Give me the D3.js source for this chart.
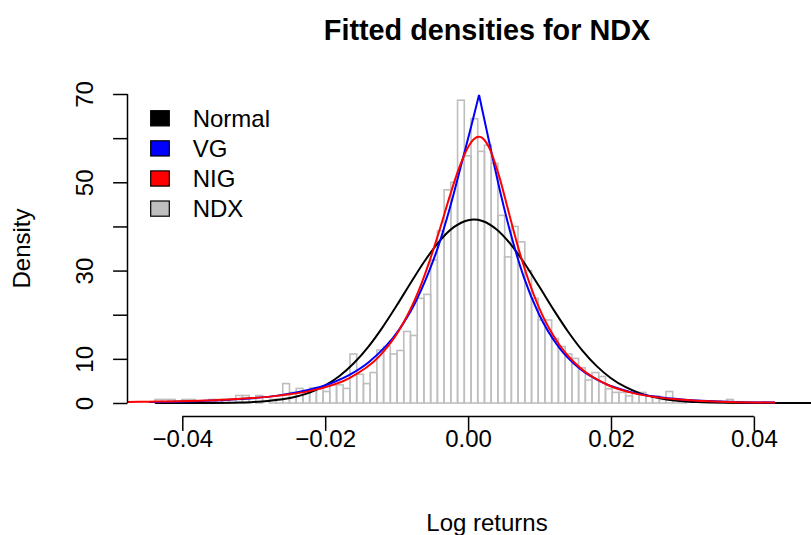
<!DOCTYPE html>
<html>
<head>
<meta charset="utf-8">
<script src="https://cdn.jsdelivr.net/npm/d3@7"></script>
<style>
  body { margin: 0; background: #ffffff; }
  svg { display: block; font-family: "Liberation Sans", Arial, Helvetica, sans-serif; }
</style>
</head>
<body>
<svg id="chart" width="811" height="535"></svg>
<script>
// ---- data ----------------------------------------------------------------
// histogram of NDX log returns (density scale), equal-width bins
const binStart = -0.04382;
const binWidth = 0.000941;
const binDensity = [
  0.8, 0.8, 0.8, 0, 0.8, 0.8, 0, 0, 0.8, 0.8,
  0.8, 0, 1.7, 1.7, 0, 1.7, 0, 0.8, 0.8, 4.4,
  2.4, 3.3, 2.5, 3.4, 3.4, 2.6, 4.1, 4.1, 3.3, 11.1,
  6.5, 4.4, 6.9, 12.0, 12.8, 11.1, 11.9, 16.2, 15.3, 23.7,
  24.6, 32.4, 39.0, 48.3, 50.0, 68.6, 56.0, 64.4, 57.0, 58.4,
  54.3, 42.5, 33.1, 40.0, 36.5, 30.0, 23.7, 18.8, 18.8, 14.6,
  12.8, 11.1, 10.1, 8.0, 5.2, 6.9, 6.0, 3.2, 2.4, 2.4,
  1.6, 2.4, 2.4, 1.6, 1.6, 0.8, 2.6, 0.8, 0.8, 0,
  0, 0, 0, 0, 0, 0.8
];

// fitted Normal density
const normalX = [-0.0438, -0.040, -0.036, -0.032, -0.030, -0.028, -0.026, -0.024, -0.022, -0.020,
  -0.018, -0.016, -0.014, -0.012, -0.010, -0.008, -0.006, -0.004, -0.002, 0.000, 0.0008,
  0.002, 0.004, 0.006, 0.008, 0.010, 0.012, 0.014, 0.016, 0.018, 0.020, 0.022, 0.024,
  0.026, 0.028, 0.030, 0.032, 0.036, 0.040, 0.046, 0.050, 0.054];
const normalY = [0.001, 0.005, 0.027, 0.121, 0.242, 0.462, 0.844, 1.477, 2.477, 3.975,
  6.105, 8.99, 12.67, 17.09, 22.07, 27.31, 32.34, 36.68, 39.83, 41.42, 41.56,
  41.24, 39.31, 35.89, 31.37, 26.26, 21.04, 16.15, 11.87, 8.35, 5.62, 3.63, 2.24,
  1.33, 0.751, 0.407, 0.212, 0.050, 0.010, 0.0005, 0, 0];

// fitted Variance-Gamma density (cusp at the mode)
const vgX = [-0.04466, -0.03346, -0.02647, -0.01947, -0.01667, -0.01387, -0.00967, -0.00757,
  -0.00547, -0.00407, -0.00267, -0.00057, 0.00041, 0.00153, 0.00265, 0.00363, 0.00460,
  0.00572, 0.00782, 0.00992, 0.01272, 0.01552, 0.01902, 0.02252, 0.02952, 0.03652, 0.04296];
const vgY = [0.22, 0.76, 1.73, 4.31, 6.33, 9.31, 16.6, 22.2,
  29.8, 36.0, 43.5, 56.4, 62.5, 69.8, 61.4, 54.1, 47.1,
  39.8, 28.4, 20.1, 12.6, 7.93, 4.49, 2.58, 0.86, 0.30, 0.11];

// fitted Normal-Inverse-Gaussian density
const nigX = [-0.04802, -0.04466, -0.03346, -0.02647, -0.02087, -0.01667, -0.01247, -0.00967,
  -0.00687, -0.00547, -0.00407, -0.00267, -0.00127, 0.00013, 0.00083, 0.00153, 0.00223,
  0.00293, 0.00432, 0.00572, 0.00712, 0.00992, 0.01272, 0.01552, 0.01972, 0.02252, 0.02952,
  0.03652, 0.04296];
const nigY = [0.215, 0.29, 0.82, 1.67, 3.2, 5.6, 10.5, 16.4,
  25.6, 31.8, 38.8, 46.3, 53.2, 58.35, 59.8, 60.3, 59.7,
  57.9, 51.5, 43.0, 34.6, 21.6, 13.3, 8.19, 3.96, 2.47, 0.77,
  0.25, 0.095];

const xTicks = [-0.04, -0.02, 0.00, 0.02, 0.04];
const yTicks = [0, 10, 20, 30, 40, 50, 60, 70];
const yTickLabels = [0, 10, 30, 50, 70];

const legendLabels = ["Normal", "VG", "NIG", "NDX"];
const legendColors = ["#000000", "#0000ff", "#ff0000", "#bebebe"];

// ---- layout ----------------------------------------------------------------
const W = 811, H = 535;
const plotLeft = 127.5, plotRight = 846.5, axisY = 416.5;
const svg = d3.select("#chart");

const x = d3.scaleLinear().domain([-0.04, 0.04]).range([182.3, 753.9]);
const y = d3.scaleLinear().domain([0, 70]).range([403, 94]);

svg.append("defs").append("clipPath").attr("id", "plotClip")
  .append("rect").attr("x", plotLeft).attr("y", 0)
  .attr("width", plotRight - plotLeft).attr("height", axisY);

// ---- histogram ----------------------------------------------------------------
const bins = binDensity.map((d, i) => ({
  x0: binStart + i * binWidth,
  x1: binStart + (i + 1) * binWidth,
  density: d
}));

svg.append("g").attr("class", "bars")
  .selectAll("rect").data(bins).join("rect")
  .attr("x", d => x(d.x0))
  .attr("width", d => x(d.x1) - x(d.x0))
  .attr("y", d => y(d.density))
  .attr("height", d => y(0) - y(d.density))
  .attr("fill", "none")
  .attr("stroke", "#bebebe")
  .attr("stroke-width", 1.6);

// ---- density curves ------------------------------------------------------------
const curves = svg.append("g").attr("clip-path", "url(#plotClip)");
const line = d3.line()
  .x(d => x(d[0]))
  .y(d => y(d[1]))
  .curve(d3.curveMonotoneX);

function drawCurve(xs, ys, color) {
  const pts = xs.map((v, i) => [v, ys[i]]);
  curves.append("path")
    .attr("d", line(pts))
    .attr("fill", "none")
    .attr("stroke", color)
    .attr("stroke-width", 2);
}

drawCurve(normalX, normalY, "#000000");
// VG drawn as two monotone branches meeting at the cusp
const vgPeak = vgY.indexOf(d3.max(vgY));
drawCurve(vgX.slice(0, vgPeak + 1), vgY.slice(0, vgPeak + 1), "#0000ff");
drawCurve(vgX.slice(vgPeak), vgY.slice(vgPeak), "#0000ff");
drawCurve(nigX, nigY, "#ff0000");

// ---- axes ----------------------------------------------------------------------
const fmtX = d => (d < 0 ? "\u2212" : "") + d3.format(".2f")(Math.abs(d));

const gx = svg.append("g")
  .attr("transform", `translate(0,${axisY})`)
  .call(d3.axisBottom(x).tickValues(xTicks).tickFormat(fmtX).tickSize(14.4).tickSizeOuter(0));
gx.select(".domain").remove();
gx.append("line")
  .attr("x1", x(xTicks[0])).attr("x2", x(xTicks[xTicks.length - 1]))
  .attr("stroke", "#000").attr("stroke-width", 1.5);
gx.selectAll(".tick line").attr("stroke", "#000").attr("stroke-width", 1.5);
gx.selectAll(".tick text")
  .attr("y", 30.2).attr("dy", null)
  .attr("font-size", 24).attr("fill", "#000")
  .attr("font-family", "Liberation Sans, Arial, sans-serif");

const gy = svg.append("g")
  .attr("transform", `translate(${plotLeft},0)`)
  .call(d3.axisLeft(y).tickValues(yTicks)
    .tickFormat(d => yTickLabels.includes(d) ? String(d) : "")
    .tickSize(14.4).tickSizeOuter(0));
gy.select(".domain").remove();
gy.append("line")
  .attr("y1", y(yTicks[0])).attr("y2", y(yTicks[yTicks.length - 1]))
  .attr("stroke", "#000").attr("stroke-width", 1.5);
gy.selectAll(".tick line").attr("stroke", "#000").attr("stroke-width", 1.5);
gy.selectAll(".tick text")
  .attr("x", null).attr("dy", null)
  .attr("text-anchor", "middle")
  .attr("transform", "translate(-34.2,0) rotate(-90)")
  .attr("font-size", 24).attr("fill", "#000")
  .attr("font-family", "Liberation Sans, Arial, sans-serif");

// ---- titles --------------------------------------------------------------------
const midX = (plotLeft + plotRight) / 2;
svg.append("text")
  .attr("x", midX).attr("y", 40.3)
  .attr("text-anchor", "middle")
  .attr("font-size", 28.8).attr("font-weight", "bold")
  .text("Fitted densities for NDX");

svg.append("text")
  .attr("x", midX).attr("y", 531)
  .attr("text-anchor", "middle")
  .attr("font-size", 24)
  .text("Log returns");

svg.append("text")
  .attr("transform", `translate(30,${(y(0) + y(70)) / 2}) rotate(-90)`)
  .attr("text-anchor", "middle")
  .attr("font-size", 24)
  .text("Density");

// ---- legend --------------------------------------------------------------------
const legend = svg.append("g").attr("class", "legend");
const rows = legend.selectAll("g").data(legendLabels).join("g")
  .attr("transform", (d, i) => `translate(0,${118.3 + i * 30.1})`);
rows.append("rect")
  .attr("x", 150.7).attr("y", -7.6)
  .attr("width", 18.6).attr("height", 15.2)
  .attr("fill", (d, i) => legendColors[i])
  .attr("stroke", "#000").attr("stroke-width", 1.2);
rows.append("text")
  .attr("x", 192.7).attr("y", 8.4)
  .attr("font-size", 24)
  .text(d => d);
</script>
</body>
</html>
